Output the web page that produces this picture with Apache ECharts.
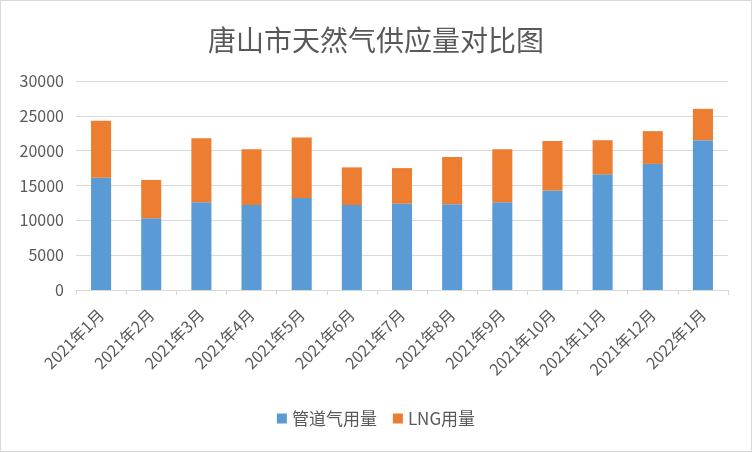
<!DOCTYPE html>
<html><head><meta charset="utf-8">
<script src="https://cdn.jsdelivr.net/npm/echarts@6/dist/echarts.min.js"></script>
<style>html,body{margin:0;padding:0;background:#fff}#c{width:750px;height:450px;border:1px solid #d9d9d9}</style>
</head><body><div id="c"></div>
<script>
const categories = ['2021年1月','2021年2月','2021年3月','2021年4月','2021年5月','2021年6月','2021年7月','2021年8月','2021年9月','2021年10月','2021年11月','2021年12月','2022年1月'];
const pipeGas = [16100,10300,12600,12200,13200,12200,12400,12300,12600,14300,16600,18100,21500];
const lng = [8200,5500,9200,8000,8700,5400,5100,6800,7600,7100,4900,4700,4500];
const seriesNames = ['管道气用量','LNG用量'];
const chart = echarts.init(document.getElementById('c'));
const font = '"Noto Sans CJK SC", "Microsoft YaHei", sans-serif';
chart.setOption({
  animation:false,
  textStyle:{fontFamily:font},
  title:{text:'唐山市天然气供应量对比图',left:'center',top:20,textStyle:{fontFamily:font,fontSize:28,fontWeight:'normal',color:'#595959'}},
  grid:{left:75,right:23,top:80,bottom:161},
  legend:{bottom:19,itemWidth:10,itemHeight:10,itemGap:16,icon:'rect',textStyle:{fontFamily:font,fontSize:17,color:'#595959'},data:seriesNames},
  xAxis:{type:'category',data:categories,axisLine:{lineStyle:{color:'#d9d9d9'}},axisTick:{show:true,length:5,lineStyle:{color:'#d9d9d9'}},
    axisLabel:{rotate:45,interval:0,fontSize:16,color:'#595959',fontFamily:font,margin:22}},
  yAxis:{type:'value',min:0,max:30000,interval:5000,axisLine:{show:false},axisTick:{show:false},
    splitLine:{lineStyle:{color:'#d9d9d9'}},axisLabel:{fontSize:16,color:'#595959',fontFamily:font,margin:12,formatter:v=>String(v)}},
  series:[
    {name:seriesNames[0],type:'bar',stack:'t',data:pipeGas,barWidth:'40%',itemStyle:{color:'#5B9BD5'}},
    {name:seriesNames[1],type:'bar',stack:'t',data:lng,barWidth:'40%',itemStyle:{color:'#ED7D31'}}
  ]
});
</script></body></html>
